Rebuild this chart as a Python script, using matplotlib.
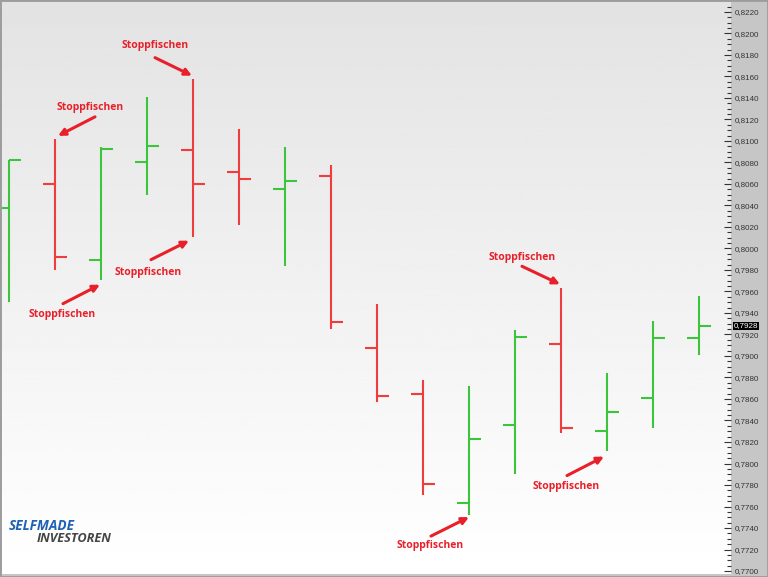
import numpy as np
import matplotlib
matplotlib.use('Agg')
import matplotlib.pyplot as plt
from matplotlib.ticker import MultipleLocator, FuncFormatter
from matplotlib.transforms import ScaledTranslation, blended_transform_factory
from matplotlib.patches import Rectangle

# OHLC bars (oldest first)
opens = [0.8038, 0.8060, 0.7989, 0.8080, 0.8092, 0.8071, 0.8055, 0.8067,
         0.7907, 0.7865, 0.7763, 0.7836, 0.7911, 0.7830, 0.7861, 0.7917]
highs = [0.8082, 0.8102, 0.8094, 0.8141, 0.8158, 0.8111, 0.8094, 0.8078,
         0.7948, 0.7878, 0.7872, 0.7924, 0.7963, 0.7884, 0.7933, 0.7956]
lows = [0.7950, 0.7980, 0.7971, 0.8050, 0.8011, 0.8022, 0.7984, 0.7925,
        0.7857, 0.7771, 0.7752, 0.7790, 0.7828, 0.7812, 0.7833, 0.7901]
closes = [0.8082, 0.7992, 0.8093, 0.8095, 0.8060, 0.8065, 0.8063, 0.7932,
          0.7863, 0.7781, 0.7823, 0.7918, 0.7833, 0.7848, 0.7917, 0.7928]
last_price = 0.7928

# callouts: bar index, which end, then head / tail / text offsets in pixels (y down)
callouts = [
    (4, 'high', (-1, -3), (-37, -18), (-37, -30)),
    (1, 'high', (3, -3), (37, -19), (32, -28)),
    (2, 'low', (-1, 5), (-37, 19), (-38, 30)),
    (4, 'low', (-4, 4), (-38, 19), (-41, 32)),
    (12, 'high', (-1, -4), (-38, -18), (-38, -27)),
    (10, 'low', (0, 2), (-38, 19), (-39, 28)),
    (13, 'low', (-3, 6), (-37, 19), (-38, 30)),
]

GREEN = '#3cc43c'
RED = '#f03c3c'
CALLOUT_RED = '#e8202a'


def price_label(value, pos):
    return f'{value:.4f}'.replace('.', ',')


def main():
    fig = plt.figure(figsize=(7.68, 5.77), dpi=100)
    fig.patch.set_facecolor('#c6c6c6')

    ax = fig.add_axes([2 / 768, 3 / 577, 729 / 768, 572 / 577])
    ax.set_xlim(-0.152, 15.696)
    ax.set_ylim(0.769721, 0.822930)

    # light grey at the top fading to white at the bottom
    grad = np.linspace(0.89, 1.0, 256).reshape(-1, 1)
    ax.imshow(grad, cmap='gray', vmin=0, vmax=1, aspect='auto',
              extent=[0, 1, 0, 1], transform=ax.transAxes, zorder=0)

    # OHLC bars
    idx = np.arange(len(opens))
    tick = 0.26
    for i in idx:
        color = GREEN if closes[i] > opens[i] else RED
        ax.vlines(i, lows[i], highs[i], color=color, lw=1.5, zorder=2)
        ax.hlines(opens[i], i - tick, i, color=color, lw=1.5, zorder=2)
        ax.hlines(closes[i], i, i + tick, color=color, lw=1.5, zorder=2)

    # Stoppfischen callouts
    for i, end, head, tail, txt in callouts:
        price = highs[i] if end == 'high' else lows[i]
        head_tr = ax.transData + ScaledTranslation(
            head[0] / 100, -head[1] / 100, fig.dpi_scale_trans)
        ax.annotate('', xy=(i, price), xycoords=head_tr,
                    xytext=(tail[0], -tail[1]), textcoords='offset pixels',
                    arrowprops=dict(arrowstyle='-|>', color=CALLOUT_RED,
                                    lw=2.2, mutation_scale=10,
                                    shrinkA=0, shrinkB=0),
                    zorder=3)
        ax.annotate('Stoppfischen', xy=(i, price), xycoords=head_tr,
                    xytext=(txt[0], -txt[1]), textcoords='offset pixels',
                    ha='center', va='center', color=CALLOUT_RED,
                    fontsize=7.5, fontweight='bold', family='Open Sans',
                    zorder=3)

    # price axis on the right
    for side in ['top', 'bottom', 'left', 'right']:
        ax.spines[side].set_visible(False)
    ax.set_xticks([])
    ax.yaxis.set_major_locator(MultipleLocator(0.002))
    ax.yaxis.set_minor_locator(MultipleLocator(0.0005))
    ax.yaxis.set_major_formatter(FuncFormatter(price_label))
    ax.tick_params(axis='y', which='both', left=False, labelleft=False,
                   right=True, labelright=True, direction='in',
                   colors='#333333', labelsize=5.8, pad=2.5)
    ax.tick_params(axis='y', which='major', length=5, width=0.8)
    ax.tick_params(axis='y', which='minor', length=3, width=0.8)
    for lbl in ax.get_yticklabels():
        lbl.set_family('Liberation Sans')

    trans = blended_transform_factory(ax.transAxes, ax.transData)
    ax.text(1.0 + 3 / 729, last_price, price_label(last_price, None),
            transform=trans, ha='left', va='center', color='white',
            fontsize=5.8, family='Liberation Sans', zorder=5,
            bbox=dict(facecolor='black', edgecolor='none', pad=0.6))

    # logo
    fig.text(9 / 768, 1 - 526 / 577, 'SELFMADE', color='#1f62b4',
             fontsize=9.8, fontweight='bold', style='italic',
             family='Open Sans', ha='left', va='center')
    fig.text(37 / 768, 1 - 539 / 577, 'INVESTOREN', color='#454545',
             fontsize=9.2, fontweight='bold', style='italic',
             family='Open Sans', ha='left', va='center')

    # outer frame
    fig.add_artist(Rectangle((0, 0), 1, 1, transform=fig.transFigure,
                             fill=False, edgecolor='#9c9c9c', lw=2.0))

    fig.savefig('out.png', dpi=100, facecolor=fig.get_facecolor())


if __name__ == '__main__':
    main()
